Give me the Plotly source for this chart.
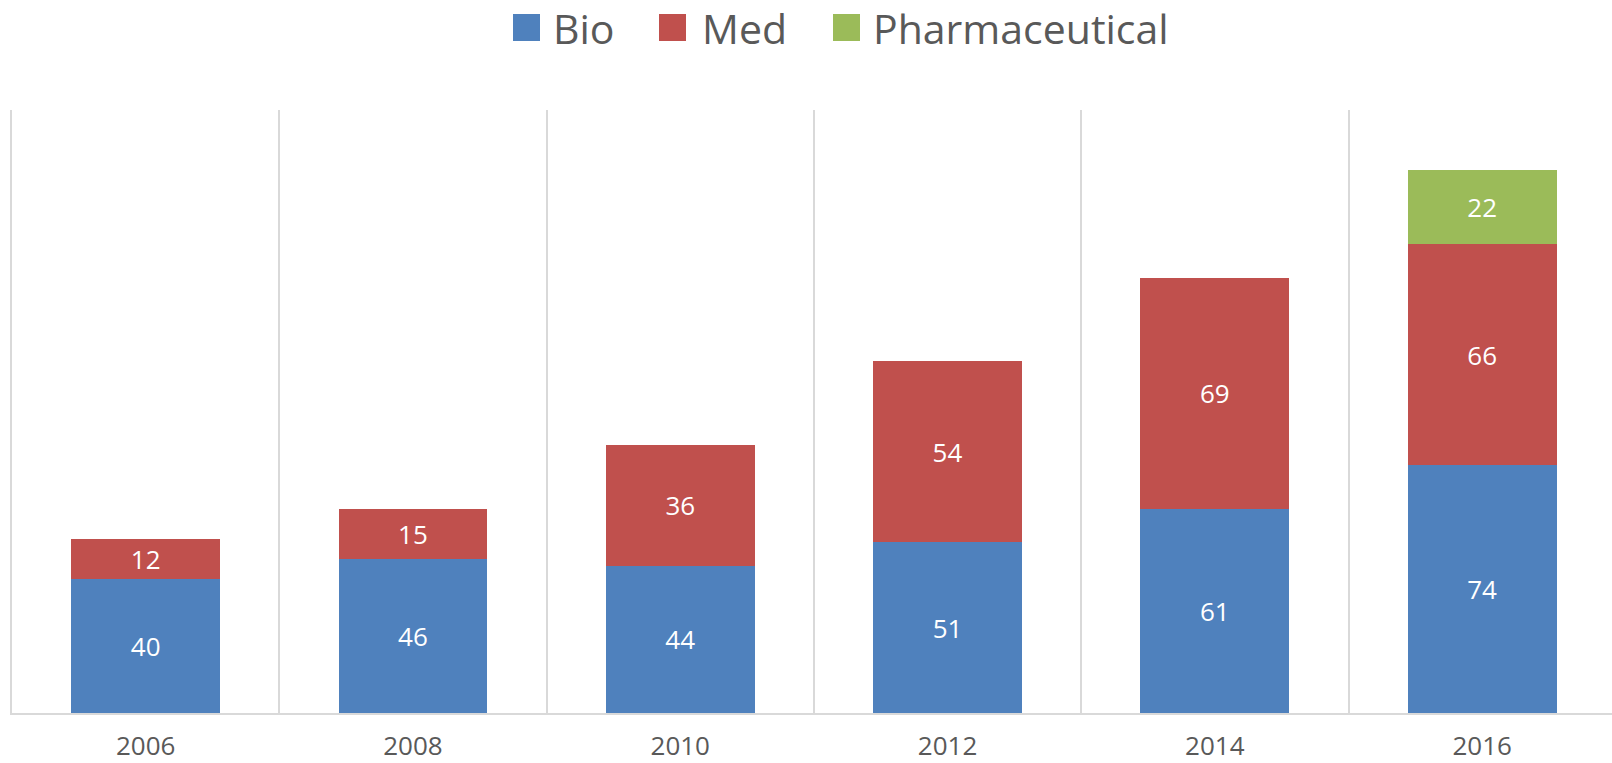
import plotly.graph_objects as go

years = ["2006", "2008", "2010", "2012", "2014", "2016"]
bio = [40, 46, 44, 51, 61, 74]
med = [12, 15, 36, 54, 69, 66]
pharma = [None, None, None, None, None, 22]

series_names = ["Bio", "Med", "Pharmaceutical"]
series_colors = ["#4F81BD", "#C0504D", "#9BBB59"]

W, H = 1612, 763
ML, MR, MT, MB = 12, 0, 110, 50
plot_w = W - ML - MR
plot_h = H - MT - MB

fig = go.Figure()
for name, vals, col in zip(series_names, [bio, med, pharma], series_colors):
    fig.add_trace(go.Bar(
        x=years, y=vals, name=name, marker=dict(color=col, line=dict(width=0)),
        text=[("" if v is None else str(v)) for v in vals],
        textposition="inside", insidetextanchor="middle", textangle=0,
        constraintext="none",
        textfont=dict(family="Open Sans", size=26, color="white"),
        showlegend=False,
    ))

# manual legend (large squares like the reference); coordinates in page pixels
def px_to_paper_x(px):
    return (px - ML) / plot_w

def px_to_paper_y(py):
    return (H - MB - py) / plot_h

legend_sq_x = [513, 659, 833]
legend_txt_x = [551, 700, 871]
sq = 27
sq_top = 14
for name, col, sx, tx in zip(series_names, series_colors, legend_sq_x, legend_txt_x):
    fig.add_shape(type="rect", xref="paper", yref="paper",
                  x0=px_to_paper_x(sx), x1=px_to_paper_x(sx + sq),
                  y0=px_to_paper_y(sq_top + sq), y1=px_to_paper_y(sq_top),
                  fillcolor=col, line=dict(width=0))
    fig.add_annotation(text=name, xref="paper", yref="paper",
                       x=px_to_paper_x(tx), y=px_to_paper_y(28),
                       xanchor="left", yanchor="middle", showarrow=False,
                       font=dict(family="Open Sans", size=41, color="#595959"))

fig.update_layout(
    width=W, height=H,
    margin=dict(l=ML, r=MR, t=MT, b=MB),
    barmode="stack", bargap=0.443,
    paper_bgcolor="white", plot_bgcolor="white",
    showlegend=False,
    xaxis=dict(
        type="category", tickson="boundaries", automargin=False,
        range=[-0.5, -0.5 + plot_w / 267.3],
        showgrid=True, gridcolor="#D9D9D9", gridwidth=1.5,
        showline=True, linecolor="#D9D9D9", linewidth=1.5,
        ticks="", ticklabelstandoff=9,
        tickfont=dict(family="Open Sans", size=26, color="#595959"),
    ),
    yaxis=dict(range=[0, 180], showgrid=False, showticklabels=False, automargin=False,
               zeroline=False, showline=True, linecolor="#D9D9D9", linewidth=1.5),
)

# remove the default 8px page margin so the figure fills the window exactly
fig.write_html("out.html", config={"displayModeBar": False},
               post_script="document.body.style.margin='0px';")
